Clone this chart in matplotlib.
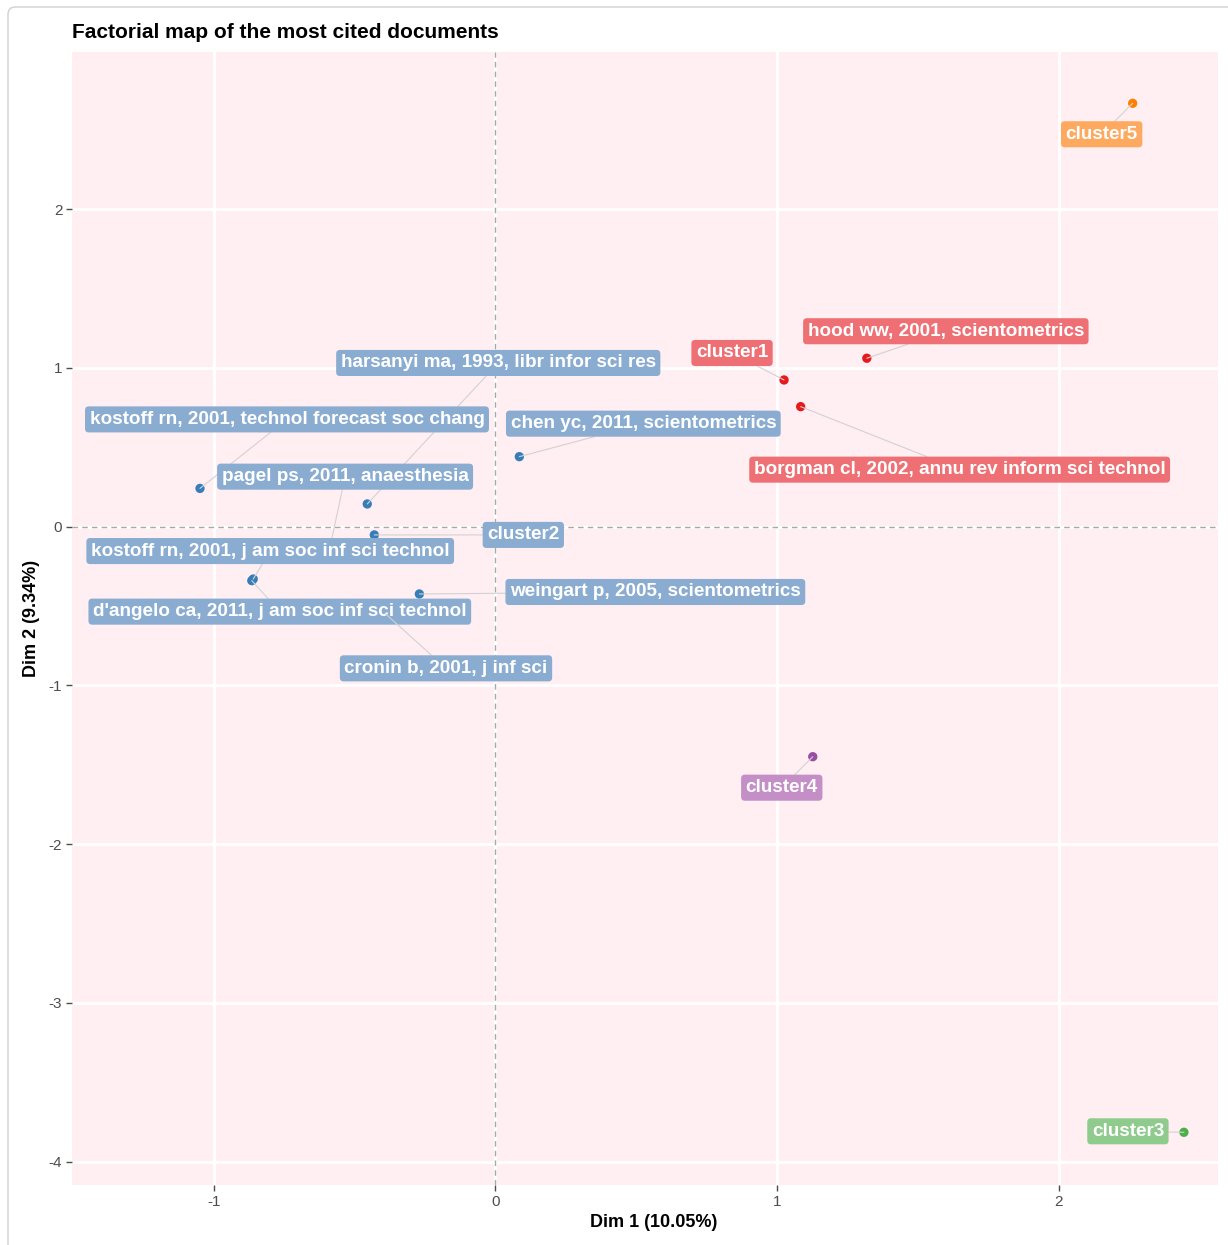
import matplotlib
matplotlib.use("Agg")
import matplotlib.pyplot as plt
from matplotlib.patches import FancyBboxPatch

# ---------------- data ----------------
doc_labels = ["harsanyi ma, 1993, libr infor sci res",
              "kostoff rn, 2001, technol forecast soc chang",
              "chen yc, 2011, scientometrics",
              "pagel ps, 2011, anaesthesia",
              "kostoff rn, 2001, j am soc inf sci technol",
              "weingart p, 2005, scientometrics",
              "d'angelo ca, 2011, j am soc inf sci technol",
              "cronin b, 2001, j inf sci",
              "hood ww, 2001, scientometrics",
              "borgman cl, 2002, annu rev inform sci technol"]
doc_x = [-0.455, -1.049, 0.085, -0.587, -0.860, -0.270, -0.865, -0.392, 1.319, 1.084]
doc_y = [0.143, 0.241, 0.441, -0.126, -0.330, -0.424, -0.340, -0.546, 1.061, 0.756]
doc_cluster = [2, 2, 2, 2, 2, 2, 2, 2, 1, 1]

cluster_labels = ["cluster1", "cluster2", "cluster3", "cluster4", "cluster5"]
cluster_x = [1.025, -0.430, 2.445, 1.127, 2.263]
cluster_y = [0.924, -0.052, -3.815, -1.449, 2.667]
cluster_id = [1, 2, 3, 4, 5]

x_ticks = [-1, 0, 1, 2]
y_ticks = [-4, -3, -2, -1, 0, 1, 2]

# ---------------- layout / style ----------------
point_colors = {1: "#E41A1C", 2: "#377EB8", 3: "#4DAF4A", 4: "#984EA3", 5: "#FF7F00"}
label_colors = {1: "#EE7074", 2: "#89ACD0", 3: "#8FCB8C", 4: "#C48EC7", 5: "#FDA95F"}
# repel-like label offsets in pixels (dx right, dy up)
doc_offsets = [(131, 141), (87, 69), (124, 33), (15, 70), (17, 28),
               (236, 2), (28, -31), (61, -55), (79, 27), (159, -63)]
cluster_offsets = [(-52, 27), (149, 0), (-56, 1), (-31, -31), (-31, -31)]

W, H = 1228, 1245
fig = plt.figure(figsize=(W / 100, H / 100), dpi=100)
fig.patch.set_facecolor("white")

# outer rounded frame
frame = FancyBboxPatch((8 / W, -0.05), 1.2, 1 - 7 / H + 0.05,
                       boxstyle="round,pad=0,rounding_size=0.006",
                       transform=fig.transFigure, facecolor="none",
                       edgecolor="#D0D0D0", lw=1.0)
fig.patches.append(frame)

ax = fig.add_axes([72 / W, 1 - 1185 / H, (1218 - 72) / W, (1185 - 52) / H])
ax.set_facecolor("#FFEEF2")
for s in ax.spines.values():
    s.set_visible(False)

ax.set_xlim(-1.5035, 2.566)
ax.set_ylim(-4.147, 2.990)
ax.set_xticks(x_ticks)
ax.set_yticks(y_ticks)
ax.set_xticklabels([str(t) for t in x_ticks])
ax.set_yticklabels([str(t) for t in y_ticks])
ax.grid(True, color="white", lw=2.0)
ax.set_axisbelow(True)
ax.tick_params(axis="both", colors="#4D4D4D", labelsize=11, length=4, width=1.0,
               labelcolor="#4D4D4D", pad=3)
for lab in ax.get_xticklabels() + ax.get_yticklabels():
    lab.set_family("Liberation Sans")

ax.axhline(0, color="#A8A8A8", lw=1.0, ls=(0, (4, 3)), zorder=1)
ax.axvline(0, color="#A8A8A8", lw=1.0, ls=(0, (4, 3)), zorder=1)

font = dict(family="Liberation Sans", weight="bold", size=13.6, color="white")


def label(x, y, text, cid, off):
    ax.annotate(text, xy=(x, y), xytext=off, textcoords="offset pixels",
                ha="center", va="center", zorder=4, **font,
                bbox=dict(boxstyle="round,pad=0.24,rounding_size=0.2",
                          fc=label_colors[cid], ec="none"),
                arrowprops=dict(arrowstyle="-", color="#D2D2D2", lw=0.8,
                                shrinkA=0, shrinkB=0))


for x, y, t, c, o in zip(doc_x, doc_y, doc_labels, doc_cluster, doc_offsets):
    label(x, y, t, c, o)
for x, y, t, c, o in zip(cluster_x, cluster_y, cluster_labels, cluster_id, cluster_offsets):
    label(x, y, t, c, o)

ax.scatter(doc_x, doc_y, s=45, c=[point_colors[c] for c in doc_cluster], zorder=3,
           edgecolors="none")
ax.scatter(cluster_x, cluster_y, s=45, c=[point_colors[c] for c in cluster_id], zorder=3,
           edgecolors="none")

ax.set_xlabel("Dim 1 (10.05%)", family="Liberation Sans", weight="bold", size=13,
              color="black", labelpad=6)
ax.xaxis.set_label_coords(0.508, -0.026)
ax.set_ylabel("Dim 2 (9.34%)", family="Liberation Sans", weight="bold", size=13,
              color="black", labelpad=6)
fig.text(72 / W, 1 - 32 / H, "Factorial map of the most cited documents",
         family="Liberation Sans", weight="bold", size=15, color="black",
         ha="left", va="center")

fig.savefig("out.png", dpi=100, facecolor="white")
